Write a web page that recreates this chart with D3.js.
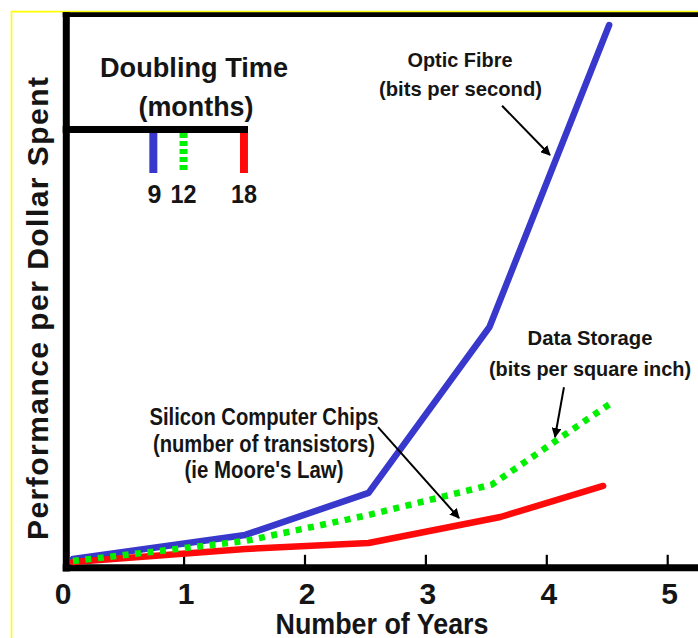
<!DOCTYPE html>
<html>
<head>
<meta charset="utf-8">
<script src="https://cdn.jsdelivr.net/npm/d3@7"></script>
<style>
  html, body { margin: 0; padding: 0; background: #ffffff; }
  svg { display: block; }
  text { font-family: "Liberation Sans", Arial, Helvetica, sans-serif; font-weight: bold; fill: #151515; }
</style>
</head>
<body>
<svg id="chart" width="698" height="638"></svg>
<script>
// ---------------- data ----------------
const xTicks = [0, 1, 2, 3, 4, 5];

const opticYears  = [0.085, 1.51, 2.53, 3.53, 4.52];
const opticPerf   = [1.45, 5.8, 13.4, 43.4, 98.0];

const storageYears = [0.085, 1.51, 2.53, 3.55, 4.52];
const storagePerf  = [1.08, 4.7, 9.4, 14.9, 29.4];

const chipYears = [0.085, 1.51, 2.53, 3.62, 4.47];
const chipPerf  = [0.9, 3.25, 4.34, 9.04, 14.65];

const doublingMonths = [9, 12, 18];
const doublingLabels = ["9", "12", "18"];

const opticLabel   = ["Optic Fibre", "(bits per second)"];
const storageLabel = ["Data Storage", "(bits per square inch)"];
const chipLabel    = ["Silicon Computer Chips", "(number of transistors)", "(ie Moore's Law)"];
const legendTitle  = ["Doubling Time", "(months)"];
const xTitle = "Number of Years";
const yTitle = "Performance per Dollar Spent";

// ---------------- layout ----------------
const W = 698, H = 638;
const svg = d3.select("#chart");

const x = d3.scaleLinear().domain([0, 5]).range([62.7, 667.2]);
const y = d3.scaleLinear().domain([0, 100]).range([567, 14]);
const m = d3.scaleLinear().domain([0, 18.4]).range([62.7, 248]);

const BLUE = "#3838cc", GREEN = "#00f000", RED = "#ff0a0a";

// yellow frame
svg.append("line").attr("x1", 11.5).attr("x2", 11.5).attr("y1", 11).attr("y2", H)
  .attr("stroke", "#ffff00").attr("stroke-width", 1.6);
svg.append("line").attr("x1", 11).attr("x2", W).attr("y1", 11.6).attr("y2", 11.6)
  .attr("stroke", "#ffff00").attr("stroke-width", 1.6);

// black frame lines
svg.append("line").attr("x1", 62.7).attr("x2", W).attr("y1", 14.6).attr("y2", 14.6)
  .attr("stroke", "#000").attr("stroke-width", 4.6);
svg.append("line").attr("x1", 66.3).attr("x2", 66.3).attr("y1", 12.3).attr("y2", 571.5)
  .attr("stroke", "#000").attr("stroke-width", 7);
svg.append("line").attr("x1", 62.7).attr("x2", W).attr("y1", 567.8).attr("y2", 567.8)
  .attr("stroke", "#000").attr("stroke-width", 7);

// x axis (ticks upward, labels below)
const xAxis = d3.axisBottom(x).tickValues(xTicks).tickFormat(d3.format("d"))
  .tickSizeInner(-13).tickSizeOuter(0).tickPadding(15);
const gx = svg.append("g").attr("transform", "translate(0,567.8)").call(xAxis);
gx.select(".domain").remove();
gx.selectAll(".tick line").attr("stroke", "#000").attr("stroke-width", 2.2)
  .filter(d => d === 0).remove();
gx.selectAll(".tick text").attr("font-size", 30).attr("fill", "#151515")
  .attr("font-family", "Liberation Sans, Arial, sans-serif").attr("font-weight", "bold")
  .attr("dx", d => d === 0 ? 0 : 2);

// axis titles
svg.append("text").attr("x", 382).attr("y", 633.5).attr("text-anchor", "middle")
  .attr("font-size", 30).attr("textLength", 213).attr("lengthAdjust", "spacingAndGlyphs")
  .text(xTitle);
svg.append("text").attr("transform", "translate(48,308.5) rotate(-90)")
  .attr("text-anchor", "middle").attr("font-size", 30)
  .attr("textLength", 463).attr("lengthAdjust", "spacing")
  .text(yTitle);

// series lines
const line = d3.line().x(d => x(d[0])).y(d => y(d[1]));
const series = [
  { years: opticYears, perf: opticPerf, color: BLUE, dash: null },
  { years: chipYears, perf: chipPerf, color: RED, dash: null },
  { years: storageYears, perf: storagePerf, color: GREEN, dash: "6,6.5" }
];
series.forEach(s => {
  svg.append("path")
    .datum(d3.zip(s.years, s.perf))
    .attr("d", line)
    .attr("fill", "none")
    .attr("stroke", s.color)
    .attr("stroke-width", 6.5)
    .attr("stroke-linejoin", "round")
    .attr("stroke-linecap", s.dash ? "butt" : "round")
    .attr("stroke-dasharray", s.dash);
});

// legend
svg.append("line").attr("x1", 62.7).attr("x2", 248).attr("y1", 129.5).attr("y2", 129.5)
  .attr("stroke", "#000").attr("stroke-width", 7);
const legColors = [BLUE, GREEN, RED];
const legDash = [null, "5,3", null];
doublingMonths.forEach((mo, i) => {
  svg.append("line").attr("x1", m(mo)).attr("x2", m(mo)).attr("y1", 133).attr("y2", 173)
    .attr("stroke", legColors[i]).attr("stroke-width", 8)
    .attr("stroke-dasharray", legDash[i]);
  svg.append("text").attr("x", m(mo) + (i === 0 ? 1 : 0)).attr("y", 203)
    .attr("text-anchor", "middle").attr("font-size", 25)
    .attr("textLength", i === 0 ? null : 26).attr("lengthAdjust", "spacingAndGlyphs")
    .text(doublingLabels[i]);
});
svg.append("text").attr("x", 194).attr("y", 76.5).attr("text-anchor", "middle")
  .attr("font-size", 27).attr("textLength", 188).attr("lengthAdjust", "spacingAndGlyphs")
  .text(legendTitle[0]);
svg.append("text").attr("x", 196).attr("y", 116).attr("text-anchor", "middle")
  .attr("font-size", 27).attr("textLength", 115).attr("lengthAdjust", "spacingAndGlyphs")
  .text(legendTitle[1]);

// annotation labels
function label(lines, cx, baselines, size, lengths) {
  lines.forEach((t, i) => {
    svg.append("text").attr("x", cx[i]).attr("y", baselines[i])
      .attr("text-anchor", "middle").attr("font-size", size)
      .attr("textLength", lengths[i]).attr("lengthAdjust", "spacingAndGlyphs")
      .text(t);
  });
}
label(opticLabel, [460, 460.5], [67, 96], 21, [105, 163]);
label(storageLabel, [590, 590], [345, 375.5], 20, [125, 202]);
label(chipLabel, [264, 264, 264], [425, 451.5, 478], 23, [229, 222, 159]);

// arrows (positions in data units)
svg.append("defs").append("marker")
  .attr("id", "arrow").attr("viewBox", "0 0 10 10").attr("refX", 9).attr("refY", 5)
  .attr("markerWidth", 5).attr("markerHeight", 5).attr("markerUnits", "strokeWidth")
  .attr("orient", "auto")
  .append("path").attr("d", "M0,0 L10,5 L0,10 z").attr("fill", "#000");

const arrows = [
  [[3.634, 83.4], [4.03, 74.5]],
  [[4.146, 32.5], [4.072, 23.5]],
  [[2.608, 25.3], [3.278, 8.86]]
];
arrows.forEach(a => {
  svg.append("line")
    .attr("x1", x(a[0][0])).attr("y1", y(a[0][1]))
    .attr("x2", x(a[1][0])).attr("y2", y(a[1][1]))
    .attr("stroke", "#000").attr("stroke-width", 2)
    .attr("marker-end", "url(#arrow)");
});
</script>
</body>
</html>
